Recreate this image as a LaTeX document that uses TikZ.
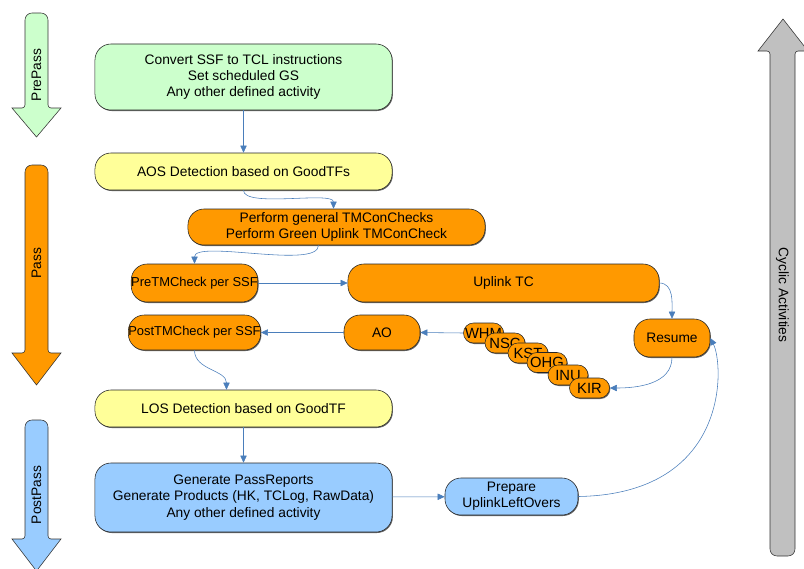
\documentclass[tikz,border=0pt]{standalone}
\usepackage{fontspec}
\setmainfont{Liberation Sans}
\usetikzlibrary{arrows.meta,shadows}
\definecolor{prepassgreen}{HTML}{CCFFCC}
\definecolor{aosyellow}{HTML}{FFFF99}
\definecolor{passorange}{HTML}{FF9900}
\definecolor{postblue}{HTML}{99CCFF}
\definecolor{cyclegray}{HTML}{C0C0C0}
\definecolor{flowblue}{HTML}{4A7EBB}
\begin{document}
\begin{tikzpicture}[x=0.025cm, y=-0.025cm,
    every node/.style={align=center, font=\fontsize{9.8}{11.5}\selectfont},
    box/.style={draw=black!85, rounded corners=0.4cm, inner sep=1pt,
      drop shadow={shadow xshift=0.02cm, shadow yshift=-0.025cm, fill=black!60, opacity=1}},
    ssfbox/.style={box, fill=passorange, minimum height=0.95cm},
    checkbox/.style={ssfbox, minimum width=3.125cm, inner xsep=0pt,
      font=\fontsize{9.2}{11}\selectfont},
    gsbox/.style={draw=black!85, fill=passorange, rounded corners=0.25cm,
      minimum width=1cm, minimum height=0.5cm, inner sep=0pt,
      font=\fontsize{10.5}{12}\selectfont,
      drop shadow={shadow xshift=0.02cm, shadow yshift=-0.025cm, fill=black!60, opacity=1}},
    phase/.style={draw=black!80},
    flow/.style={draw=flowblue, -{Triangle[length=5pt, width=4.5pt]}}]
  \useasboundingbox (0,0) rectangle (804,568);
  \clip (0,0) rectangle (804,568);

  % phase arrows on the left
  \foreach \top/\neck/\tip/\mid/\col/\lab in {13/108/137/75/prepassgreen/PrePass,
      165/353/385/263/passorange/Pass, 420/539/571/495/postblue/PostPass} {
    \draw[phase, fill=\col] (25,\neck-3) -- (25,\top+7)
      arc[start angle=180, end angle=270, radius=7] -- (41,\top)
      arc[start angle=270, end angle=360, radius=7] -- (48,\neck-3)
      arc[start angle=180, end angle=90, radius=3] -- (61,\neck)
      -- (36.5,\tip) -- (12,\neck) -- (22,\neck)
      arc[start angle=90, end angle=0, radius=3] -- cycle;
    \node[rotate=90] at (36.5,\mid) {\lab};
  }

  % cyclic arrow on the right
  \draw[phase, fill=cyclegray] (770,54) -- (770,549)
    arc[start angle=180, end angle=90, radius=7] -- (788,556)
    arc[start angle=90, end angle=0, radius=7] -- (795,54)
    arc[start angle=180, end angle=270, radius=3] -- (808,51)
    -- (783,19) -- (758,51) -- (767,51)
    arc[start angle=270, end angle=360, radius=3] -- cycle;
  \node[rotate=-90] at (782.5,295) {Cyclic Activities};

  % prepass
  \node[box, fill=prepassgreen, minimum width=7.425cm, minimum height=1.65cm] (convert)
    at (243.5,77) {Convert SSF to TCL instructions\\Set scheduled GS\\Any other defined activity};
  \node[box, fill=aosyellow, minimum width=7.425cm, minimum height=0.925cm] (aos)
    at (243.5,171.5) {AOS Detection based on GoodTFs};

  % pass
  \node[ssfbox, minimum width=7.425cm, minimum height=0.9cm] (perform)
    at (336.5,227) {Perform general TMConChecks\\Perform Green Uplink TMConCheck};
  \node[checkbox] (pretm) at (194.5,283) {PreTMCheck per SSF};
  \node[ssfbox, minimum width=7.775cm] (uplink) at (503.5,283) {Uplink TC};
  \node[checkbox, minimum height=0.875cm] (posttm) at (194.5,332.5) {PostTMCheck per SSF};
  \node[ssfbox, minimum width=1.9cm, minimum height=0.875cm] (ao) at (382,332.5) {AO};
  \node[ssfbox, minimum width=1.9cm] (resume) at (672,338) {Resume};
  \foreach \gs/\px/\py in {WHM/483.5/333, NSC/505/343, KST/528/353,
      OHG/547/362.5, INU/568/375, KIR/589.5/388}
    \node[gsbox] (\gs) at (\px,\py) {\gs};

  % postpass
  \node[box, fill=aosyellow, minimum width=7.425cm, minimum height=0.925cm] (los)
    at (243.5,408.5) {LOS Detection based on GoodTF};
  \node[box, fill=postblue, minimum width=7.425cm, minimum height=1.725cm] (reports)
    at (243.5,497.5) {Generate PassReports\\Generate Products (HK, TCLog, RawData)\\Any other defined activity};
  \node[box, fill=postblue, minimum width=3.325cm, minimum height=0.925cm] (leftovers)
    at (511.5,496.5) {Prepare\\UplinkLeftOvers};

  % flow
  \draw[flow] (convert) -- (aos);
  \draw[flow] (aos.south) to[out=-90, in=90, looseness=0.5] ([xshift=-0.075cm]perform.north);
  \draw[flow] ([xshift=-0.45cm]perform.south) to[out=-90, in=90, looseness=0.5] (pretm.north);
  \draw[flow] (pretm) -- (uplink);
  \draw[flow] (uplink.east) to[out=0, in=90] (resume.north);
  \draw[flow] (resume.south) to[out=-90, in=0] (KIR.east);
  \draw[flow] (WHM.west) -- (ao.east);
  \draw[flow] (ao) -- (posttm);
  \draw[flow] (posttm.south) to[out=-90, in=90] ([xshift=-0.425cm]los.north);
  \draw[flow] (los) -- (reports);
  \draw[flow] (reports) -- (leftovers);
  \draw[flow] (leftovers.east) .. controls (730,494) and (724,365) .. (resume.east);
\end{tikzpicture}
\end{document}
